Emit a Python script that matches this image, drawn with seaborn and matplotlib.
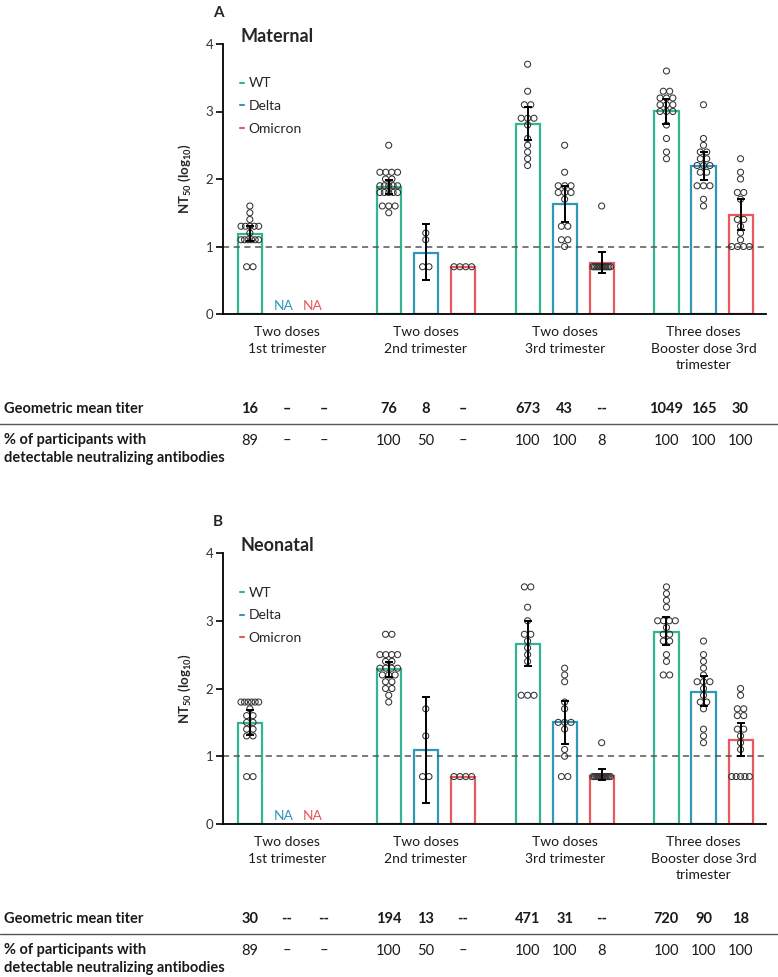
import numpy as np
import pandas as pd
import matplotlib
matplotlib.use("Agg")
import matplotlib.pyplot as plt
import matplotlib.transforms as mtransforms
from matplotlib.lines import Line2D
import seaborn as sns

# ---------------- data ----------------
GROUPS = ["Two doses\n1st trimester", "Two doses\n2nd trimester",
          "Two doses\n3rd trimester", "Three doses\nBooster dose 3rd\ntrimester"]
VARIANTS = ["WT", "Delta", "Omicron"]
COLORS = {"WT": "#33b593", "Delta": "#2f97b8", "Omicron": "#e8585d"}

# Maternal: bar heights (log10 NT50) per group; None = not available
mat_bar_wt = [1.19, 1.88, 2.82, 3.01]
mat_bar_delta = [None, 0.91, 1.63, 2.19]
mat_bar_omicron = [None, 0.70, 0.76, 1.47]
mat_lo_wt = [1.08, 1.78, 2.58, 2.82]
mat_hi_wt = [1.30, 1.99, 3.07, 3.19]
mat_lo_delta = [None, 0.50, 1.36, 1.99]
mat_hi_delta = [None, 1.34, 1.90, 2.40]
mat_lo_omicron = [None, None, 0.61, 1.24]
mat_hi_omicron = [None, None, 0.92, 1.71]
mat_pts_wt = [
    [1.6, 1.5, 1.4, 1.3, 1.3, 1.3, 1.3, 1.3, 1.2, 1.1, 1.1, 1.1, 1.1, 1.1, 1.1, 0.7, 0.7],
    [2.5, 2.1, 2.1, 2.1, 2.1, 2.0, 2.0, 1.9, 1.9, 1.9, 1.9, 1.9, 1.8, 1.8, 1.8, 1.8, 1.8,
     1.6, 1.6, 1.6, 1.5],
    [3.7, 3.3, 3.1, 3.1, 2.9, 2.9, 2.9, 2.8, 2.6, 2.5, 2.4, 2.3, 2.2],
    [3.6, 3.3, 3.3, 3.2, 3.2, 3.2, 3.1, 3.1, 3.1, 3.0, 3.0, 3.0, 2.8, 2.6, 2.4, 2.3],
]
mat_pts_delta = [
    [],
    [1.2, 1.1, 0.7, 0.7],
    [2.5, 2.1, 1.9, 1.9, 1.9, 1.8, 1.8, 1.8, 1.7, 1.3, 1.3, 1.1, 1.1, 1.0],
    [3.1, 2.6, 2.5, 2.4, 2.4, 2.3, 2.3, 2.2, 2.2, 2.2, 2.1, 2.1, 1.9, 1.9, 1.9, 1.7, 1.6],
]
mat_pts_omicron = [
    [],
    [0.7, 0.7, 0.7, 0.7],
    [1.6, 0.7, 0.7, 0.7, 0.7, 0.7, 0.7, 0.7, 0.7, 0.7, 0.7, 0.7, 0.7],
    [2.3, 2.1, 2.0, 1.8, 1.8, 1.7, 1.4, 1.4, 1.3, 1.2, 1.1, 1.0, 1.0, 1.0, 1.0],
]
mat_gmt_wt = ["16", "76", "673", "1049"]
mat_gmt_delta = ["–", "8", "43", "165"]
mat_gmt_omicron = ["–", "–", "--", "30"]
mat_pct_wt = ["89", "100", "100", "100"]
mat_pct_delta = ["–", "50", "100", "100"]
mat_pct_omicron = ["–", "–", "8", "100"]

# Neonatal
neo_bar_wt = [1.49, 2.29, 2.65, 2.84]
neo_bar_delta = [None, 1.09, 1.50, 1.95]
neo_bar_omicron = [None, 0.70, 0.71, 1.24]
neo_lo_wt = [1.31, 2.17, 2.33, 2.64]
neo_hi_wt = [1.69, 2.39, 3.00, 3.06]
neo_lo_delta = [None, 0.31, 1.18, 1.74]
neo_hi_delta = [None, 1.87, 1.82, 2.18]
neo_lo_omicron = [None, None, 0.65, 1.00]
neo_hi_omicron = [None, None, 0.81, 1.49]
neo_pts_wt = [
    [1.8, 1.8, 1.8, 1.8, 1.8, 1.8, 1.7, 1.6, 1.6, 1.5, 1.5, 1.4, 1.4, 1.3, 1.3, 0.7, 0.7],
    [2.8, 2.8, 2.5, 2.5, 2.5, 2.5, 2.4, 2.4, 2.3, 2.3, 2.3, 2.3, 2.2, 2.2, 2.2, 2.1, 2.1,
     2.0, 2.0, 1.9, 1.8],
    [3.5, 3.5, 3.2, 3.0, 2.8, 2.8, 2.7, 2.6, 2.5, 2.4, 1.9, 1.9, 1.9],
    [3.5, 3.4, 3.3, 3.2, 3.0, 3.0, 3.0, 3.0, 2.9, 2.8, 2.8, 2.7, 2.7, 2.5, 2.4, 2.2, 2.2],
]
neo_pts_delta = [
    [],
    [1.7, 1.3, 0.7, 0.7],
    [2.3, 2.2, 2.1, 1.8, 1.7, 1.5, 1.5, 1.5, 1.4, 1.1, 1.0, 0.7, 0.7],
    [2.7, 2.5, 2.4, 2.3, 2.2, 2.1, 2.1, 2.1, 2.0, 1.9, 1.8, 1.8, 1.7, 1.4, 1.3, 1.2],
]
neo_pts_omicron = [
    [],
    [0.7, 0.7, 0.7, 0.7],
    [1.2, 0.7, 0.7, 0.7, 0.7, 0.7, 0.7, 0.7, 0.7, 0.7, 0.7, 0.7, 0.7],
    [2.0, 1.9, 1.7, 1.7, 1.6, 1.6, 1.4, 1.4, 1.3, 1.2, 1.1, 0.7, 0.7, 0.7, 0.7, 0.7],
]
neo_gmt_wt = ["30", "194", "471", "720"]
neo_gmt_delta = ["--", "13", "31", "90"]
neo_gmt_omicron = ["--", "--", "--", "18"]
neo_pct_wt = ["89", "100", "100", "100"]
neo_pct_delta = ["–", "50", "100", "100"]
neo_pct_omicron = ["–", "–", "8", "100"]

PANELS = [
    dict(letter="A", title="Maternal", box=(223, 44, 766, 314),
         bars=[mat_bar_wt, mat_bar_delta, mat_bar_omicron],
         lo=[mat_lo_wt, mat_lo_delta, mat_lo_omicron],
         hi=[mat_hi_wt, mat_hi_delta, mat_hi_omicron],
         pts=[mat_pts_wt, mat_pts_delta, mat_pts_omicron],
         gmt=[mat_gmt_wt, mat_gmt_delta, mat_gmt_omicron],
         pct=[mat_pct_wt, mat_pct_delta, mat_pct_omicron]),
    dict(letter="B", title="Neonatal", box=(223, 553, 766, 824),
         bars=[neo_bar_wt, neo_bar_delta, neo_bar_omicron],
         lo=[neo_lo_wt, neo_lo_delta, neo_lo_omicron],
         hi=[neo_hi_wt, neo_hi_delta, neo_hi_omicron],
         pts=[neo_pts_wt, neo_pts_delta, neo_pts_omicron],
         gmt=[neo_gmt_wt, neo_gmt_delta, neo_gmt_omicron],
         pct=[neo_pct_wt, neo_pct_delta, neo_pct_omicron]),
]

# ---------------- style ----------------
sns.set_style("ticks")
plt.rcParams["font.family"] = ["Lato", "DejaVu Sans"]
plt.rcParams["mathtext.default"] = "regular"

W, H = 778, 977
fig = plt.figure(figsize=(W / 100, H / 100), dpi=100)

DODGE_W = 0.8
OFFS = [(k - 1) * DODGE_W / 3 for k in range(3)]
GAP = 0.35
BAR_W = DODGE_W / 3 * (1 - GAP)
XLIM = (-0.46, 3.45)
TXT = "#1a1a1a"


def row_offsets(values, d, wmax):
    vals = np.asarray(values, dtype=float)
    offs = np.zeros(len(vals))
    for v in np.unique(vals):
        idx = np.where(np.isclose(vals, v))[0]
        n = len(idx)
        if n > 1:
            step = min(d, (wmax - d) / (n - 1))
            offs[idx] = (np.arange(n) - (n - 1) / 2) * step
    return offs


def fy(py):
    return 1 - py / H


for P in PANELS:
    l, t, r, b = P["box"]
    ax = fig.add_axes([l / W, 1 - b / H, (r - l) / W, (b - t) / H])

    # bars
    rows = []
    for k, v in enumerate(VARIANTS):
        for g, val in enumerate(P["bars"][k]):
            if val is not None:
                rows.append(dict(group=GROUPS[g], variant=v, value=val))
    bars_df = pd.DataFrame(rows)
    sns.barplot(data=bars_df, x="group", y="value", hue="variant",
                order=GROUPS, hue_order=VARIANTS, palette=COLORS,
                width=DODGE_W, gap=GAP, fill=False, linewidth=1.6,
                errorbar=None, legend=False, ax=ax)
    ax.set_xlim(*XLIM)
    ax.set_ylim(0, 4)

    # threshold line
    ax.axhline(1, color="#555555", lw=1.1, ls=(0, (4, 3)), zorder=1.5)

    # points (Prism-like horizontal rows)
    px_per_unit = (r - l) / (XLIM[1] - XLIM[0])
    d = 6.4 / px_per_unit
    prow = []
    for k, v in enumerate(VARIANTS):
        for g, vals in enumerate(P["pts"][k]):
            if len(vals) == 0:
                continue
            offs = row_offsets(vals, d, BAR_W)
            for val, o in zip(vals, offs):
                prow.append(dict(x=g + OFFS[k] + o, y=val))
    pts_df = pd.DataFrame(prow)
    sns.scatterplot(data=pts_df, x="x", y="y", marker="o", s=19,
                    facecolor="none", edgecolor="#333333", linewidth=0.75,
                    zorder=3, legend=False, ax=ax)
    for coll in ax.collections:
        coll.set_facecolor("none")

    # error bars
    for k, v in enumerate(VARIANTS):
        for g in range(4):
            mid = P["bars"][k][g]
            lo = P["lo"][k][g]
            hi = P["hi"][k][g]
            if mid is None or lo is None:
                continue
            ax.errorbar(g + OFFS[k], mid, yerr=[[mid - lo], [hi - mid]], fmt="none",
                        ecolor="black", elinewidth=1.4, capsize=2.6, capthick=1.4,
                        zorder=4)

    # NA labels for group 1
    ax.text(0 + OFFS[1] - 0.02, 0.06, "NA", color=COLORS["Delta"], fontsize=10,
            ha="center", va="baseline")
    ax.text(0 + OFFS[2] - 0.08, 0.06, "NA", color=COLORS["Omicron"], fontsize=10,
            ha="center", va="baseline")

    # axes styling
    ax.set_xlabel("")
    ax.set_ylabel("NT$_{50}$ (log$_{10}$)", fontsize=9.5, fontweight="bold")
    ax.yaxis.set_label_coords(-0.055, 0.5)
    ax.set_yticks([0, 1, 2, 3, 4])
    for s in ["top", "right"]:
        ax.spines[s].set_visible(False)
    for s in ["left", "bottom"]:
        ax.spines[s].set_linewidth(1.3)
        ax.spines[s].set_color("black")
    ax.tick_params(axis="y", length=5, width=1.2, labelsize=9.5, pad=2,
                   labelcolor="#333333", color="black")
    ax.tick_params(axis="x", length=0, pad=9, labelsize=10, labelcolor=TXT)
    for lab in ax.get_xticklabels():
        lab.set_linespacing(1.42)

    # title, panel letter, legend
    ax.text(0.033, 1.027, P["title"], transform=ax.transAxes, fontsize=13,
            fontweight="bold", ha="left", va="center")
    fig.text(213 / W, fy(t - 31), P["letter"], fontsize=11, fontweight="bold",
             ha="left", va="center")
    handles = [Line2D([0], [0], color=COLORS[v], lw=1.5) for v in VARIANTS]
    ax.legend(handles, VARIANTS, loc="upper left", bbox_to_anchor=(0.031, 0.876),
              frameon=False, fontsize=10, handlelength=0.3, handletextpad=0.35,
              labelspacing=0.78, borderpad=0, borderaxespad=0)

    # table below
    tr = mtransforms.blended_transform_factory(ax.transData, fig.transFigure)
    y_gmt = b + 95
    y_line = b + 110
    y_pct = b + 127
    fig.text(0.005, fy(y_gmt), "Geometric mean titer", fontsize=10.5,
             fontweight="bold", ha="left", va="center", color=TXT)
    fig.text(0.005, fy(y_pct + 8), "% of participants with\ndetectable neutralizing antibodies",
             fontsize=10.5, fontweight="bold", ha="left", va="center", linespacing=1.3,
             color=TXT)
    fig.add_artist(Line2D([0, 1], [fy(y_line), fy(y_line)], transform=fig.transFigure,
                          color="#555555", lw=1.0))
    for k in range(3):
        for g in range(4):
            x = g + OFFS[k]
            ax.text(x, fy(y_gmt), P["gmt"][k][g], transform=tr, fontsize=10.5,
                    fontweight="bold", ha="center", va="center", clip_on=False, color=TXT)
            ax.text(x, fy(y_pct), P["pct"][k][g], transform=tr, fontsize=10.5,
                    ha="center", va="center", clip_on=False, color=TXT)

fig.savefig("out.png", dpi=100)
